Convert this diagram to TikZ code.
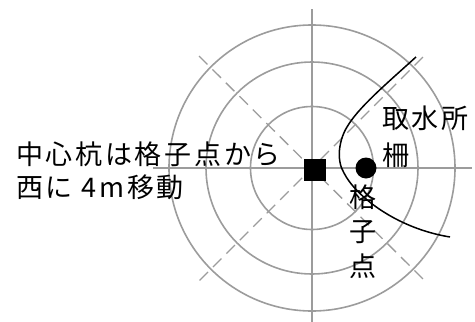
\documentclass[tikz,border=0pt]{standalone}
\usepackage{fontspec}
\setmainfont[LetterSpace=10]{Noto Sans CJK JP}
\usetikzlibrary{positioning}
\definecolor{gridgray}{HTML}{9C9C9C}
\tikzstyle{ring} = [draw=gridgray, line width=1.6pt]
\tikzstyle{axis} = [draw=gridgray, line width=1.6pt]
\tikzstyle{diag} = [draw=gridgray, line width=1.3pt, dash pattern=on 12pt off 7pt]
\tikzstyle{label} = [anchor=west, inner sep=0pt, font=\fontsize{27}{27}\selectfont]
\tikzstyle{fence} = [draw=black, line width=1.5pt]

\begin{document}
\begin{tikzpicture}[x=1pt,y=-1pt]
\useasboundingbox (0,0) rectangle (475,322);

\coordinate (ctr) at (312,168);
\draw [ring] (ctr) circle (61.5pt);
\draw [ring] (ctr) circle (106pt);
\draw [ring] (ctr) circle (143pt);

\coordinate (w) at (153,168);
\coordinate (e) at (472,168);
\coordinate (n) at (312,9);
\coordinate (s) at (312,322);
\draw [axis] (w) -- (e);
\draw [axis] (n) -- (s);

\coordinate (nw) at (199,56);
\coordinate (se) at (423,279);
\coordinate (ne) at (423,57);
\coordinate (sw) at (199,281);
\draw [diag] (nw) -- (se);
\draw [diag] (ne) -- (sw);

\node (pile) [fill=black, minimum size=22pt, inner sep=0pt] at (315,170) {};
\node (grid) [circle, fill=black, minimum size=21pt, inner sep=0pt] at (366,168) {};

\coordinate (f0) at (416,57);
\coordinate (f1) at (347,127);
\coordinate (f2) at (344,173);
\coordinate (f3) at (450,237);
\draw [fence] (f0) .. controls (385,85) and (358,108) .. (f1) .. controls (339,140) and (336,160) .. (f2) .. controls (355,195) and (395,228) .. (f3);

\node (lab1) [label] at (16,154) {中心杭は格子点から};
\node (lab2) [label] at (16,187) {西に 4m移動};
\node (lab3) [label] at (382,118) {取水所};
\node (lab4) [label] at (382,155) {柵};
\node (lab5) [label] at (349,197) {格};
\node (lab6) [label] at (349,232) {子};
\node (lab7) [label] at (349,266) {点};

\end{tikzpicture}
\end{document}
